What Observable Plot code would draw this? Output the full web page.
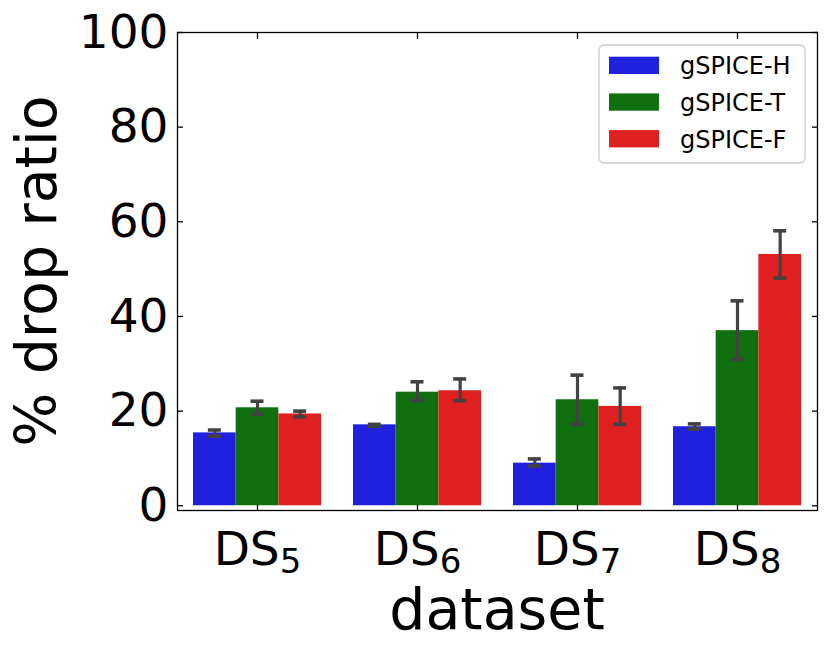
<!DOCTYPE html>
<html><head><meta charset="utf-8">
<script src="https://cdn.jsdelivr.net/npm/d3@7"></script>
<script src="https://cdn.jsdelivr.net/npm/@observablehq/plot@0.6"></script>
<style>body{margin:0;background:#fff} svg{display:block}</style>
</head><body><div id="chart"></div>
<script>
const datasets = ["DS5","DS6","DS7","DS8"];
const datasetBase = ["DS","DS","DS","DS"];
const datasetSubs = ["5","6","7","8"];
const methods = ["gSPICE-H","gSPICE-T","gSPICE-F"];
const colors = ["#2020df","#107010","#df2020"];
const valH = [15.4, 17.1, 9.0, 16.7];
const loH  = [14.7, 16.8, 8.4, 16.2];
const hiH  = [16.0, 17.2, 9.9, 17.3];
const valT = [20.7, 24.0, 22.4, 37.0];
const loT  = [19.3, 22.2, 17.2, 30.9];
const hiT  = [22.1, 26.2, 27.6, 43.3];
const valF = [19.4, 24.3, 21.0, 53.1];
const loF  = [18.8, 22.2, 17.2, 48.1];
const hiF  = [20.0, 26.8, 24.9, 58.1];
const yTicks = [0, 20, 40, 60, 80, 100];
const xLabel = "dataset";
const yLabel = "% drop ratio";

const vals = [valH, valT, valF], los = [loH, loT, loF], his = [hiH, hiT, hiF];
const slot = 0.8 / methods.length;
const rows = [];
methods.forEach((m, j) => datasets.forEach((d, i) => {
  const x1 = i - 0.4 + j * slot;
  rows.push({dataset: d, method: m, x1, x2: x1 + slot, xc: x1 + slot / 2,
             value: vals[j][i], lo: los[j][i], hi: his[j][i]});
}));
const idx = datasets.map((d, i) => i);

const plot = Plot.plot({
  width: 831, height: 652,
  marginLeft: 177, marginRight: 14, marginTop: 32, marginBottom: 142,
  style: {fontFamily: "DejaVu Sans", background: "white", color: "black", overflow: "visible"},
  x: {type: "linear", domain: [-0.5, 3.5]},
  y: {domain: [-1, 100]},
  color: {domain: methods, range: colors},
  marks: [
    Plot.rect(rows, {x1: "x1", x2: "x2", y1: 0, y2: "value", fill: "method"}),
    Plot.ruleX(rows, {x: "xc", y1: "lo", y2: "hi", stroke: "#424242", strokeWidth: 3.2}),
    Plot.ruleY(rows, {x1: "xc", x2: "xc", y: "lo", insetLeft: -6.5, insetRight: -6.5, stroke: "#424242", strokeWidth: 3.6}),
    Plot.ruleY(rows, {x1: "xc", x2: "xc", y: "hi", insetLeft: -6.5, insetRight: -6.5, stroke: "#424242", strokeWidth: 3.6}),
    Plot.frame({stroke: "black", strokeWidth: 1.3}),
    Plot.axisY(yTicks, {anchor: "left", tickSize: 0, tickPadding: 9, fontSize: 47, label: null}),
    Plot.axisY(yTicks, {anchor: "left", tickSize: -6, strokeWidth: 1.3, tickFormat: () => "", label: null}),
    Plot.axisY(yTicks, {anchor: "right", tickSize: -6, strokeWidth: 1.3, tickFormat: () => "", label: null}),
    Plot.axisX(idx, {anchor: "bottom", tickSize: 0, tickPadding: 21, fontSize: 47, tickFormat: i => datasets[i], label: null}),
    Plot.axisX(idx, {anchor: "bottom", tickSize: -6, strokeWidth: 1.3, tickFormat: () => "", label: null}),
    Plot.axisX(idx, {anchor: "top", tickSize: -6, strokeWidth: 1.3, tickFormat: () => "", label: null})
  ]
});
document.getElementById("chart").appendChild(plot);

const svg = d3.select(plot);
// subscripted x tick labels
svg.selectAll('g[aria-label="x-axis tick label"] text').each(function() {
  const t = d3.select(this);
  const s = t.text();
  const i = datasets.indexOf(s);
  if (i < 0) return;
  t.text("");
  t.append("tspan").text(datasetBase[i]);
  t.append("tspan").attr("font-size", 34).attr("dy", 8).text(datasetSubs[i]);
});
// axis labels
svg.append("text").attr("x", 497).attr("y", 629).attr("text-anchor", "middle")
  .attr("font-size", 57).attr("font-family", "DejaVu Sans").attr("fill", "black").text(xLabel);
svg.append("text").attr("transform", "translate(56,271) rotate(-90)").attr("text-anchor", "middle")
  .attr("font-size", 57).attr("font-family", "DejaVu Sans").attr("fill", "black").text(yLabel);
// legend
const lg = svg.append("g").attr("font-family", "DejaVu Sans").attr("text-anchor", "start");
lg.append("rect").attr("x", 599).attr("y", 45).attr("width", 206).attr("height", 118).attr("rx", 5)
  .attr("fill", "white").attr("fill-opacity", 0.8).attr("stroke", "#cccccc").attr("stroke-width", 1.3);
methods.forEach((m, j) => {
  const y0 = 56.7 + j * 36.7;
  lg.append("rect").attr("x", 609).attr("y", y0).attr("width", 50).attr("height", 17.3).attr("fill", colors[j]);
  lg.append("text").attr("x", 680).attr("y", y0 + 17.5).attr("text-anchor", "start")
    .attr("font-size", 24).attr("fill", "black").text(m);
});
</script>
</body></html>
